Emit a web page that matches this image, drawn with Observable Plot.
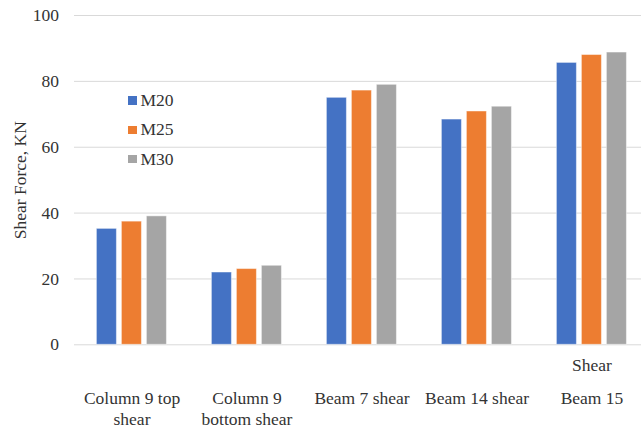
<!DOCTYPE html>
<html>
<head>
<meta charset="utf-8">
<script src="https://cdn.jsdelivr.net/npm/d3@7"></script>
<script src="https://cdn.jsdelivr.net/npm/@observablehq/plot@0.6"></script>
<style>
  html, body { margin: 0; padding: 0; background: #fff; }
  #wrap { position: relative; width: 641px; height: 432px; overflow: hidden; font-family: "Liberation Serif", "Times New Roman", serif; }
  #legend { position: absolute; left: 128px; top: 86px; font-size: 17.5px; color: #333; font-family: "Liberation Serif", "Times New Roman", serif; }
  #legend .item { display: flex; align-items: center; height: 29.3px; }
  #legend .sw { width: 8.5px; height: 8.5px; margin-right: 4px; }
  svg text { font-family: "Liberation Serif", "Times New Roman", serif; }
</style>
</head>
<body>
<div id="wrap"><div id="legend"></div></div>
<script>
const categories = ["Column 9 top shear", "Column 9 bottom shear", "Beam 7 shear", "Beam 14 shear", "Beam 15 Shear"];
const labelLine1 = ["Column 9 top", "Column 9", "Beam 7 shear", "Beam 14 shear", "Beam 15"];
const labelLine2 = ["shear", "bottom shear", "", "", ""];
const labelAbove = ["", "", "", "", "Shear"];
const series = ["M20", "M25", "M30"];
const m20 = [35.2, 21.95, 75.0, 68.4, 85.6];
const m25 = [37.4, 23.0, 77.2, 70.85, 88.0];
const m30 = [39.0, 24.0, 78.95, 72.3, 88.75];
const yTicks = [0, 20, 40, 60, 80, 100];
const colors = ["#4472C4", "#ED7D31", "#A5A5A5"];

const valuesBySeries = {M20: m20, M25: m25, M30: m30};
const data = categories.flatMap((c, i) => series.map(s => ({category: c, series: s, value: valuesBySeries[s][i]})));

const font = '"Liberation Serif", "Times New Roman", serif';

const chart = Plot.plot({
  width: 641,
  height: 432,
  marginLeft: 72.6,
  marginRight: -8.7,
  marginTop: 15,
  marginBottom: 87.7,
  style: {fontFamily: font, fontSize: "17.5px", color: "#333", background: "#fff"},
  fx: {domain: categories, padding: 0, axis: null},
  x: {domain: series, paddingInner: 0.21, paddingOuter: 0.885, axis: null},
  y: {domain: [0, 100]},
  color: {domain: series, range: colors},
  marks: [
    Plot.gridY(yTicks, {stroke: "#d9d9d9", strokeOpacity: 1, strokeWidth: 1}),
    Plot.barY(data, {fx: "category", x: "series", y: "value", fill: "series", stroke: "#fff", strokeOpacity: 0.45, strokeWidth: 1}),
    Plot.axisY(yTicks, {tickSize: 0, tickPadding: 15.5, fontSize: 17.5, fontFamily: font, label: "Shear Force, KN", labelAnchor: "center", labelArrow: "none", labelOffset: 61}),
    Plot.text(categories, {fx: d => d, text: (d, i) => labelLine1[i], frameAnchor: "bottom", lineAnchor: "middle", dy: 54, fontSize: 17.5, fontFamily: font}),
    Plot.text(categories, {fx: d => d, text: (d, i) => labelLine2[i], frameAnchor: "bottom", lineAnchor: "middle", dy: 75, fontSize: 17.5, fontFamily: font}),
    Plot.text(categories, {fx: d => d, text: (d, i) => labelAbove[i], frameAnchor: "bottom", lineAnchor: "middle", dy: 21, fontSize: 17.5, fontFamily: font})
  ]
});
document.getElementById("wrap").prepend(chart);

const legend = document.getElementById("legend");
series.forEach((s, i) => {
  const item = document.createElement("div");
  item.className = "item";
  const sw = document.createElement("span");
  sw.className = "sw";
  sw.style.background = colors[i];
  const t = document.createElement("span");
  t.textContent = s;
  item.append(sw, t);
  legend.append(item);
});
</script>
</body>
</html>
